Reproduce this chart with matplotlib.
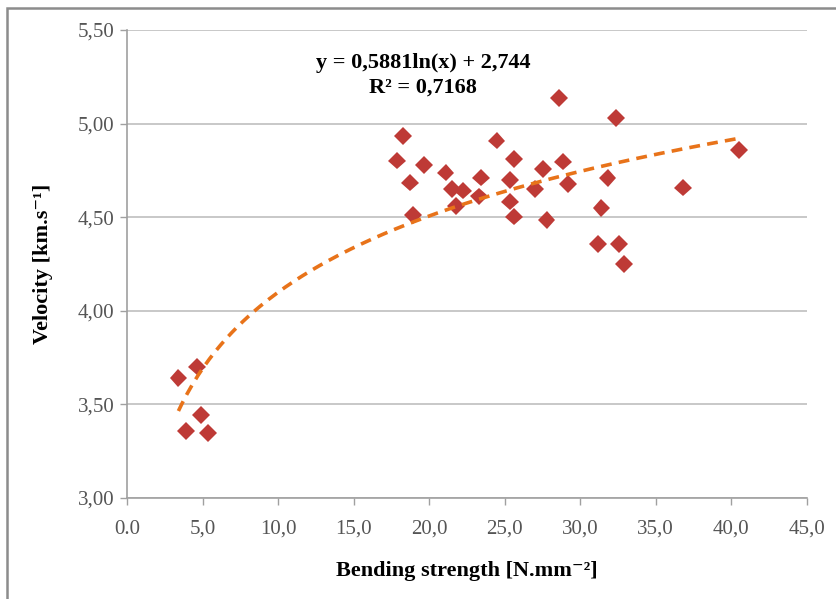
import numpy as np
import matplotlib.pyplot as plt
import matplotlib.patheffects as pe
from matplotlib.patches import Rectangle
from matplotlib.ticker import FuncFormatter


# Bending strength vs. velocity
#--------------------------------------------------------------------------------

bending_strength = [
    3.40, 3.88, 4.61, 4.90, 5.38,
    17.89, 18.29, 18.73, 18.95, 19.65,
    21.09, 21.53, 21.77, 22.26, 23.32, 23.43, 24.47,
    25.35, 25.35, 25.61, 25.61, 27.00, 27.55, 27.77,
    28.59, 28.88, 29.20, 31.20, 31.41, 31.81, 32.36,
    32.56, 32.89, 36.82, 40.50
]

velocity = [
    3.639, 3.358, 3.701, 3.443, 3.346,
    4.802, 4.934, 4.684, 4.512, 4.779,
    4.738, 4.649, 4.560, 4.642, 4.610, 4.711, 4.909,
    4.699, 4.583, 4.809, 4.503, 4.651, 4.757, 4.485,
    5.138, 4.797, 4.677, 4.355, 4.548, 4.708, 5.028,
    4.355, 4.248, 4.658, 4.859
]

# logarithmic trendline as printed on the chart
fit_a = 0.5881
fit_b = 2.744
fit_r2 = 0.7168
fit_x_range = (3.4, 40.5)

x_ticks = np.arange(0, 46, 5)
y_ticks = np.arange(3.0, 5.51, 0.5)


def comma(value, digits):
    return f"{value:.{digits}f}".replace(".", ",")


plt.rcParams["font.family"] = ["Liberation Serif", "DejaVu Serif"]

fig = plt.figure(figsize=(8.36, 5.99), dpi=100)

ax = fig.add_axes([0.152, 0.169, 0.813, 0.781])

# ----------------------------------------
# Scatter points with a soft shadow
# ----------------------------------------

ax.plot(
    bending_strength,
    velocity,
    linestyle="none",
    marker="D",
    markersize=9,
    color="#BE3A36",
    markeredgewidth=0,
    zorder=3,
    path_effects=[
        pe.SimpleLineShadow(offset=(1.5, -1.5), alpha=0.25, shadow_color="black"),
        pe.Normal()
    ]
)

# ----------------------------------------
# Trendline
# ----------------------------------------

trend_x = np.linspace(fit_x_range[0], fit_x_range[1], 200)
trend_y = fit_a * np.log(trend_x) + fit_b

ax.plot(
    trend_x,
    trend_y,
    color="#E8731A",
    linewidth=2.6,
    dashes=(3, 2),
    zorder=4
)

ax.text(
    19.6,
    5.26,
    f"y = {comma(fit_a, 4)}ln(x) + {comma(fit_b, 3)}\nR² = {comma(fit_r2, 4)}",
    ha="center",
    va="center",
    fontsize=16,
    fontweight="bold",
    linespacing=1.3
)

# ----------------------------------------
# Axes
# ----------------------------------------

ax.set_xlim(0, 45)
ax.set_ylim(3.0, 5.5)

ax.set_xticks(x_ticks)
ax.set_yticks(y_ticks)

ax.xaxis.set_major_formatter(
    FuncFormatter(lambda v, p: "0.0" if v == 0 else comma(v, 1))
)
ax.yaxis.set_major_formatter(
    FuncFormatter(lambda v, p: comma(v, 2))
)

ax.tick_params(
    labelsize=15,
    labelcolor="#555555",
    color="#A0A0A0",
    length=5,
    width=1
)
ax.tick_params(axis="x", pad=11)
ax.tick_params(axis="y", pad=4)

ax.grid(axis="y", color="#BFBFBF", linewidth=1.2)
ax.set_axisbelow(True)

for side in ["top", "right"]:
    ax.spines[side].set_visible(False)

for side in ["left", "bottom"]:
    ax.spines[side].set_color("#A0A0A0")
    ax.spines[side].set_linewidth(1.2)

ax.set_xlabel(
    "Bending strength [N.mm⁻²]",
    fontsize=16,
    fontweight="bold",
    labelpad=16
)

ax.set_ylabel(
    "Velocity [km.s⁻¹]",
    fontsize=16,
    fontweight="bold",
    labelpad=18
)

# ----------------------------------------
# Chart frame
# ----------------------------------------

fig.patches.append(
    Rectangle(
        (7 / 836, -0.05),
        1.1,
        1 - 8 / 599 + 0.05,
        transform=fig.transFigure,
        fill=False,
        edgecolor="#8C8C8C",
        linewidth=1.8
    )
)

fig.savefig("out.png", dpi=100)
plt.close()
